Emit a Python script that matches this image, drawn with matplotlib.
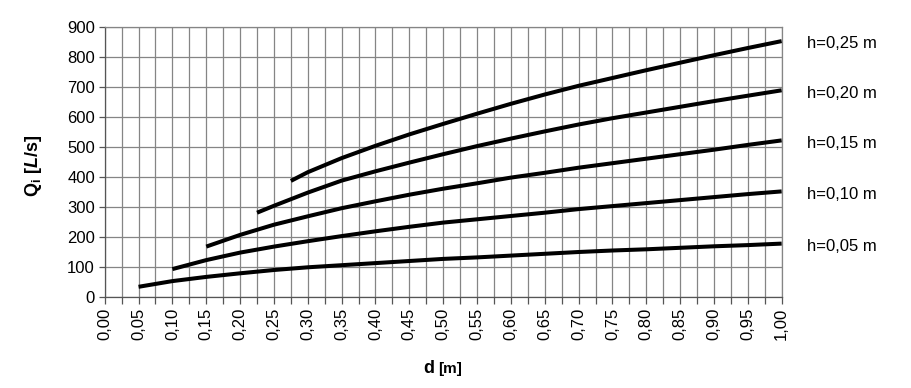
import matplotlib
matplotlib.use("Agg")
import matplotlib.pyplot as plt
from matplotlib.ticker import MultipleLocator, FuncFormatter

plt.rcParams['font.family'] = ['Liberation Sans', 'DejaVu Sans']
plt.rcParams['mathtext.fontset'] = 'custom'
plt.rcParams['mathtext.rm'] = 'Liberation Sans:bold'
plt.rcParams['mathtext.bf'] = 'Liberation Sans:bold'
plt.rcParams['mathtext.it'] = 'Liberation Sans:bold:italic'

# ---- data ----
d_005 = [0.05, 0.10, 0.15, 0.20, 0.25, 0.30, 0.35, 0.40, 0.45, 0.50,
         0.55, 0.60, 0.65, 0.70, 0.75, 0.80, 0.85, 0.90, 0.95, 1.00]
q_005 = [33, 52, 66, 78, 89, 98, 105, 112, 119, 126,
         131, 137, 143, 149, 154, 158, 163, 168, 172, 177]

d_010 = [0.10, 0.15, 0.20, 0.25, 0.30, 0.35, 0.40, 0.45, 0.50,
         0.55, 0.60, 0.65, 0.70, 0.75, 0.80, 0.85, 0.90, 0.95, 1.00]
q_010 = [92, 122, 147, 167, 185, 202, 218, 233, 247,
         258, 269, 280, 292, 302, 312, 322, 332, 342, 351]

d_015 = [0.15, 0.20, 0.25, 0.30, 0.35, 0.40, 0.45, 0.50,
         0.55, 0.60, 0.65, 0.70, 0.75, 0.80, 0.85, 0.90, 0.95, 1.00]
q_015 = [167, 206, 240, 268, 295, 318, 340, 360,
         378, 397, 413, 430, 445, 460, 475, 490, 506, 521]

d_020 = [0.225, 0.25, 0.30, 0.35, 0.40, 0.45, 0.50,
         0.55, 0.60, 0.65, 0.70, 0.75, 0.80, 0.85, 0.90, 0.95, 1.00]
q_020 = [280, 303, 347, 387, 418, 447, 475,
         502, 527, 551, 574, 595, 614, 633, 652, 670, 688]

d_025 = [0.275, 0.30, 0.35, 0.40, 0.45, 0.50,
         0.55, 0.60, 0.65, 0.70, 0.75, 0.80, 0.85, 0.90, 0.95, 1.00]
q_025 = [386, 415, 462, 503, 541, 576,
         610, 643, 674, 703, 729, 755, 780, 805, 829, 852]

series_labels = ["h=0,05 m", "h=0,10 m", "h=0,15 m", "h=0,20 m", "h=0,25 m"]
series = [(d_005, q_005), (d_010, q_010), (d_015, q_015), (d_020, q_020), (d_025, q_025)]

# ---- figure ----
fig = plt.figure(figsize=(9.12, 3.88), dpi=100)
ax = fig.add_axes([104.7 / 912, 1 - 296.7 / 388, (781.7 - 104.7) / 912, (296.7 - 26.7) / 388])

grid_col = '#858585'
ax.set_xlim(0, 1.0)
ax.set_ylim(0, 900)
ax.xaxis.set_major_locator(MultipleLocator(0.05))
ax.xaxis.set_minor_locator(MultipleLocator(0.025))
ax.yaxis.set_major_locator(MultipleLocator(100))
ax.xaxis.set_major_formatter(FuncFormatter(lambda v, p: f"{v:.2f}".replace('.', ',')))
ax.grid(True, which='both', axis='x', color=grid_col, lw=0.9)
ax.grid(True, which='major', axis='y', color=grid_col, lw=0.9)
ax.set_axisbelow(True)
for s in ax.spines.values():
    s.set_color(grid_col)
    s.set_linewidth(0.9)
ax.spines['bottom'].set_color('#555555')
ax.spines['left'].set_color('#555555')

ax.tick_params(axis='x', which='both', direction='out', length=5, width=0.9, color='#555555',
               labelsize=12, labelrotation=90, pad=3)
ax.tick_params(axis='y', which='both', direction='out', length=4, width=0.9, color='#555555',
               labelsize=12, pad=3)

for (dd, qq), lab in zip(series, series_labels):
    ax.plot(dd, qq, color='black', lw=2.9, solid_capstyle='butt', solid_joinstyle='round',
            clip_on=False)
    ax.annotate(lab, xy=(dd[-1], qq[-1]), xytext=(18, -2), textcoords='offset points',
                va='center', ha='left', fontsize=12, annotation_clip=False)

# axis labels
fig.text(33 / 912, 1 - 166 / 388, r"$\mathrm{Q_i\ [}L\mathrm{/s]}$", rotation=90,
         ha='center', va='center', fontsize=13)
fig.text(434 / 912, 1 - 373 / 388, "d", ha='right', va='baseline', fontsize=13, fontweight='bold')
fig.text(438 / 912, 1 - 373 / 388, "[m]", ha='left', va='baseline', fontsize=11, fontweight='bold')

fig.savefig("out.png", dpi=100)
